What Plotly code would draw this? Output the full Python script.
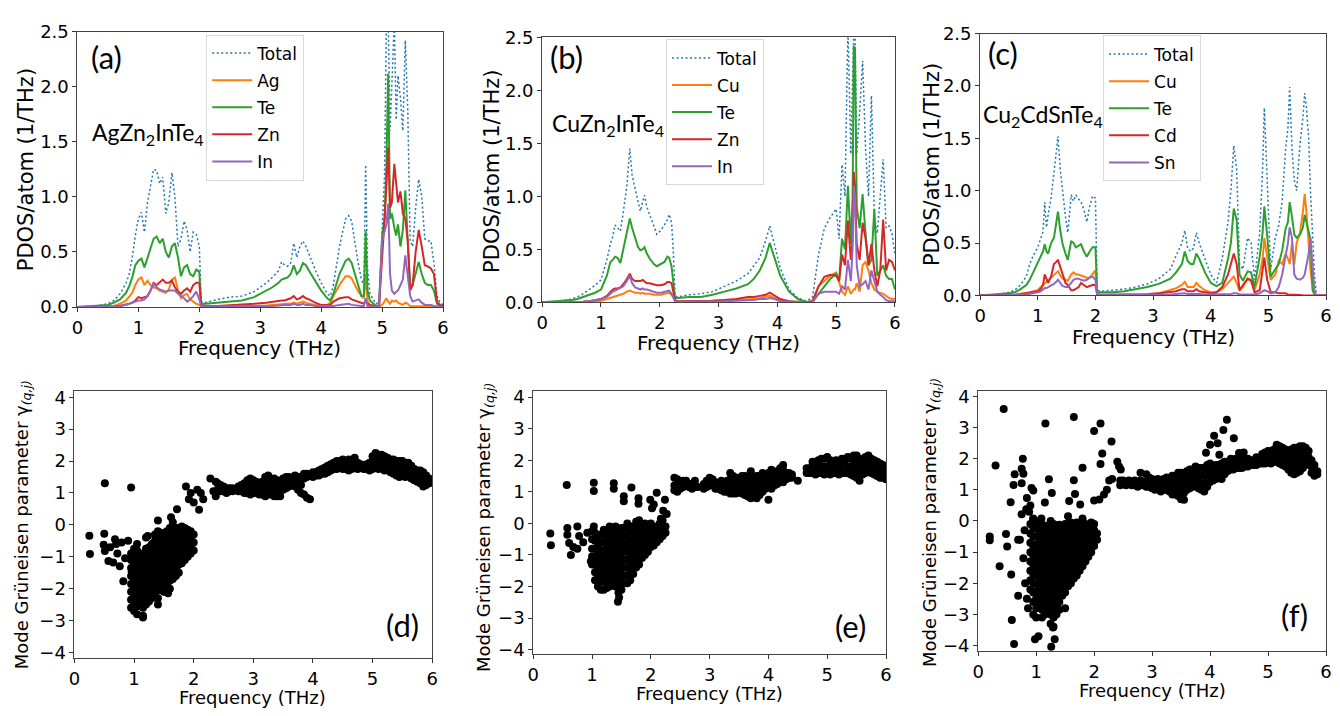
import plotly.graph_objects as go

# page body keeps its default 8px margin: figure is sized so the page is 1340x716
OFF = 8
W, H = 1340 - 2 * OFF, 716 - 2 * OFF

# ---------------- PDOS data (a) AgZn2InTe4 ----------------
FREQ_A = [0.0, 0.3, 0.5, 0.6, 0.7, 0.8, 0.85, 0.9, 0.95, 1.0,
          1.05, 1.1, 1.15, 1.2, 1.25, 1.3, 1.35, 1.4, 1.45, 1.5,
          1.55, 1.6, 1.65, 1.7, 1.75, 1.8, 1.85, 1.9, 1.95, 2.0,
          2.03, 2.1, 2.3, 2.5, 2.7, 2.9, 3.1, 3.2, 3.3, 3.35,
          3.4, 3.45, 3.5, 3.55, 3.6, 3.65, 3.7, 3.75, 3.8, 3.9,
          4.0, 4.1, 4.15, 4.2, 4.3, 4.4, 4.45, 4.5, 4.6, 4.66,
          4.7, 4.73, 4.76, 4.8, 4.9, 4.95, 5.0, 5.04, 5.07, 5.1,
          5.13, 5.16, 5.2, 5.23, 5.26, 5.3, 5.34, 5.38, 5.42, 5.46,
          5.5, 5.55, 5.6, 5.65, 5.7, 5.75, 5.8, 5.85, 5.9, 5.95, 6.0]
A_TOTAL = [0, 0.01, 0.03, 0.06, 0.12, 0.22, 0.3, 0.45, 0.65, 0.8,
           0.86, 0.68, 0.95, 1.1, 1.25, 1.24, 1.12, 1.18, 0.85, 0.95,
           1.22, 1.0, 0.55, 0.62, 0.78, 0.7, 0.5, 0.68, 0.66, 0.55,
           0.05, 0.04, 0.07, 0.09, 0.1, 0.14, 0.22, 0.27, 0.33, 0.41,
           0.38, 0.37, 0.4, 0.58, 0.45, 0.55, 0.6, 0.55, 0.48, 0.34,
           0.22, 0.12, 0.1, 0.2, 0.55, 0.8, 0.83, 0.78, 0.42, 0.25,
           0.2, 1.29, 0.35, 0.12, 0.03, 0.05, 0.7, 1.2, 2.6, 2.6,
           1.6, 2.0, 2.6, 1.7, 2.1, 1.9, 1.6, 2.42, 1.8, 0.6,
           0.55, 0.9, 1.16, 1.0, 0.62, 0.6, 0.6, 0.4, 0.1, 0.04, 0.02]
A_AG = [0, 0, 0.005, 0.01, 0.03, 0.06, 0.09, 0.13, 0.2, 0.25,
        0.27, 0.2, 0.24, 0.2, 0.18, 0.17, 0.15, 0.14, 0.13, 0.16,
        0.25, 0.27, 0.15, 0.08, 0.11, 0.12, 0.07, 0.05, 0.03, 0.02,
        0.01, 0.005, 0.005, 0.005, 0.01, 0.01, 0.015, 0.02, 0.025, 0.03,
        0.03, 0.03, 0.03, 0.04, 0.03, 0.04, 0.05, 0.04, 0.03, 0.02,
        0.01, 0.02, 0.04, 0.1, 0.2, 0.28, 0.28, 0.26, 0.15, 0.1,
        0.08, 0.3, 0.05, 0.02, 0.005, 0.005, 0.02, 0.05, 0.08, 0.05,
        0.03, 0.06, 0.05, 0.06, 0.04, 0.03, 0.02, 0.04, 0.03, 0.01,
        0.01, 0.01, 0.01, 0.01, 0.005, 0.005, 0.005, 0.005, 0, 0, 0]
A_TE = [0, 0.01, 0.02, 0.04, 0.07, 0.13, 0.19, 0.27, 0.38, 0.42,
        0.44, 0.36, 0.45, 0.55, 0.62, 0.64, 0.58, 0.62, 0.5, 0.45,
        0.55, 0.58, 0.45, 0.28, 0.36, 0.38, 0.3, 0.28, 0.34, 0.32,
        0.03, 0.03, 0.04, 0.05, 0.06, 0.09, 0.15, 0.18, 0.22, 0.25,
        0.26, 0.27, 0.3, 0.38, 0.3, 0.33, 0.4, 0.38, 0.33, 0.24,
        0.15, 0.08, 0.06, 0.12, 0.3, 0.42, 0.44, 0.4, 0.2, 0.1,
        0.1, 0.69, 0.15, 0.06, 0.01, 0.02, 0.65, 0.8, 1.3, 2.12,
        0.8, 0.85, 0.72, 0.65, 0.75, 0.55, 0.7, 1.06, 0.6, 0.2,
        0.2, 0.3, 0.41, 0.3, 0.22, 0.2, 0.2, 0.15, 0.03, 0.01, 0.01]
A_ZN = [0, 0, 0, 0.005, 0.01, 0.02, 0.03, 0.04, 0.06, 0.09,
        0.08, 0.09, 0.1, 0.15, 0.22, 0.2, 0.23, 0.25, 0.22, 0.22,
        0.24, 0.18, 0.14, 0.12, 0.15, 0.17, 0.14, 0.2, 0.22, 0.22,
        0.02, 0.01, 0.01, 0.015, 0.02, 0.03, 0.04, 0.05, 0.06, 0.06,
        0.06, 0.07, 0.08, 0.1, 0.07, 0.08, 0.1, 0.08, 0.07, 0.04,
        0.02, 0.02, 0.02, 0.05, 0.08, 0.09, 0.09, 0.07, 0.05, 0.04,
        0.03, 0.06, 0.03, 0.02, 0.005, 0.01, 0.4, 0.8, 1.1, 1.45,
        0.9, 0.95, 1.3, 1.1, 0.95, 1.05, 0.85, 0.8, 0.6, 0.15,
        0.2, 0.5, 0.7, 0.55, 0.38, 0.37, 0.35, 0.3, 0.05, 0.02, 0.01]
A_IN = [0, 0, 0, 0.005, 0.01, 0.02, 0.03, 0.04, 0.05, 0.06,
        0.06, 0.07, 0.1, 0.15, 0.22, 0.18, 0.16, 0.15, 0.14, 0.15,
        0.15, 0.15, 0.12, 0.1, 0.08, 0.05, 0.07, 0.1, 0.14, 0.07,
        0.01, 0.005, 0.005, 0.005, 0.005, 0.01, 0.01, 0.01, 0.015, 0.02,
        0.02, 0.02, 0.02, 0.03, 0.02, 0.02, 0.03, 0.02, 0.02, 0.01,
        0.01, 0.005, 0.005, 0.01, 0.02, 0.03, 0.03, 0.02, 0.01, 0.01,
        0.01, 0.08, 0.01, 0.005, 0.005, 0.01, 0.6, 0.7, 0.75, 0.94,
        0.3, 0.15, 0.12, 0.14, 0.15, 0.2, 0.25, 0.47, 0.3, 0.1,
        0.05, 0.06, 0.07, 0.04, 0.02, 0.02, 0.02, 0.01, 0.005, 0, 0]

# ---------------- PDOS data (b) CuZn2InTe4 ----------------
FREQ_B = [0.0, 0.3, 0.5, 0.6, 0.7, 0.8, 0.9, 1.0, 1.1, 1.16,
          1.2, 1.24, 1.28, 1.33, 1.38, 1.44, 1.49, 1.53, 1.58, 1.63,
          1.67, 1.71, 1.74, 1.78, 1.83, 1.9, 1.95, 2.02, 2.08, 2.13,
          2.16, 2.2, 2.23, 2.26, 2.3, 2.5, 2.7, 2.9, 3.1, 3.3,
          3.5, 3.6, 3.7, 3.8, 3.87, 3.95, 4.05, 4.2, 4.35, 4.5,
          4.6, 4.7, 4.8, 4.9, 5.0, 5.05, 5.1, 5.15, 5.2, 5.25,
          5.28, 5.3, 5.32, 5.35, 5.4, 5.45, 5.5, 5.55, 5.6, 5.65,
          5.7, 5.75, 5.8, 5.85, 5.9, 5.95, 6.0]
B_TOTAL = [0, 0.01, 0.03, 0.05, 0.08, 0.12, 0.16, 0.21, 0.4, 0.55,
           0.62, 0.73, 0.7, 0.67, 0.85, 1.1, 1.45, 1.2, 1.07, 0.95,
           0.86, 0.95, 1.01, 0.9, 0.83, 0.72, 0.64, 0.68, 0.73, 0.78,
           0.83, 0.75, 0.49, 0.06, 0.05, 0.07, 0.08, 0.1, 0.15, 0.2,
           0.27, 0.35, 0.42, 0.58, 0.72, 0.55, 0.32, 0.12, 0.04, 0.01,
           0.05, 0.45, 0.7, 0.8, 0.88, 0.6, 1.3, 1.0, 2.6, 1.4,
           2.0, 2.6, 2.6, 1.4, 1.8, 2.28, 1.45, 1.0, 1.95, 0.8,
           0.65, 1.0, 1.35, 0.7, 0.72, 0.65, 0.45]
B_CU = [0, 0, 0, 0.005, 0.005, 0.01, 0.01, 0.015, 0.03, 0.04,
        0.05, 0.055, 0.06, 0.07, 0.08, 0.1, 0.11, 0.1, 0.09, 0.09,
        0.08, 0.09, 0.08, 0.08, 0.08, 0.07, 0.07, 0.07, 0.08, 0.09,
        0.09, 0.07, 0.05, 0.01, 0.005, 0.005, 0.01, 0.01, 0.015, 0.02,
        0.03, 0.03, 0.04, 0.05, 0.06, 0.04, 0.02, 0.01, 0.005, 0,
        0.01, 0.15, 0.2, 0.25, 0.28, 0.2, 0.1, 0.07, 0.15, 0.08,
        0.1, 0.12, 0.12, 0.18, 0.1, 0.35, 0.38, 0.3, 0.18, 0.12,
        0.1, 0.09, 0.08, 0.06, 0.04, 0.03, 0.03]
B_TE = [0, 0.01, 0.02, 0.03, 0.05, 0.07, 0.09, 0.12, 0.25, 0.38,
        0.4, 0.43, 0.42, 0.37, 0.5, 0.65, 0.79, 0.7, 0.6, 0.52,
        0.49, 0.5, 0.52, 0.46, 0.41, 0.36, 0.34, 0.36, 0.38, 0.43,
        0.42, 0.34, 0.2, 0.04, 0.04, 0.05, 0.05, 0.07, 0.1, 0.13,
        0.17, 0.22, 0.3, 0.42, 0.56, 0.42, 0.25, 0.1, 0.03, 0.0,
        0.01, 0.08, 0.15, 0.22, 0.27, 0.2, 0.6, 0.5, 1.1, 0.55,
        1.0, 2.42, 2.4, 0.9, 0.7, 1.02, 0.65, 0.35, 0.4, 0.88,
        0.25, 0.3, 0.35, 0.25, 0.22, 0.22, 0.12]
B_ZN = [0, 0, 0, 0, 0.005, 0.01, 0.02, 0.03, 0.06, 0.1,
        0.12, 0.13, 0.13, 0.14, 0.17, 0.22, 0.27, 0.22, 0.2, 0.2,
        0.2, 0.21, 0.2, 0.18, 0.18, 0.17, 0.16, 0.16, 0.17, 0.19,
        0.19, 0.18, 0.1, 0.02, 0.01, 0.01, 0.01, 0.015, 0.02, 0.03,
        0.05, 0.05, 0.06, 0.07, 0.09, 0.06, 0.03, 0.01, 0, 0,
        0.01, 0.15, 0.24, 0.26, 0.25, 0.2, 0.45, 0.35, 0.77, 0.4,
        0.6, 1.23, 1.1, 0.55, 0.4, 0.75, 0.6, 0.35, 0.55, 0.3,
        0.15, 0.3, 0.78, 0.3, 0.4, 0.38, 0.3]
B_IN = [0, 0, 0, 0, 0.005, 0.01, 0.02, 0.03, 0.05, 0.08,
        0.1, 0.11, 0.12, 0.13, 0.15, 0.2, 0.25, 0.18, 0.14, 0.13,
        0.12, 0.13, 0.12, 0.12, 0.11, 0.1, 0.09, 0.09, 0.1, 0.11,
        0.11, 0.08, 0.05, 0.01, 0.005, 0.005, 0.005, 0.01, 0.01, 0.015,
        0.02, 0.02, 0.03, 0.03, 0.04, 0.03, 0.01, 0.005, 0, 0,
        0, 0.08, 0.1, 0.1, 0.1, 0.08, 0.15, 0.12, 0.4, 0.2,
        0.5, 1.1, 1.0, 0.35, 0.15, 0.17, 0.2, 0.12, 0.3, 0.2,
        0.1, 0.07, 0.05, 0.02, 0.01, 0.01, 0.01]

# ---------------- PDOS data (c) Cu2CdSnTe4 ----------------
FREQ_C = [0.0, 0.3, 0.5, 0.6, 0.7, 0.8, 0.86, 0.92, 1.0, 1.05,
          1.09, 1.12, 1.15, 1.18, 1.23, 1.28, 1.32, 1.35, 1.39, 1.43,
          1.48, 1.52, 1.58, 1.62, 1.66, 1.71, 1.75, 1.8, 1.85, 1.9,
          1.95, 2.0, 2.03, 2.1, 2.3, 2.5, 2.7, 2.9, 3.1, 3.3,
          3.4, 3.5, 3.55, 3.6, 3.65, 3.7, 3.75, 3.8, 3.9, 4.0,
          4.1, 4.2, 4.3, 4.35, 4.4, 4.45, 4.5, 4.56, 4.64, 4.7,
          4.76, 4.85, 4.9, 4.93, 4.98, 5.04, 5.12, 5.18, 5.24, 5.3,
          5.34, 5.37, 5.41, 5.45, 5.49, 5.55, 5.6, 5.63, 5.66, 5.7,
          5.73, 5.77, 5.8, 5.83, 5.87, 6.0]
C_TOTAL = [0, 0.01, 0.03, 0.05, 0.1, 0.18, 0.3, 0.38, 0.46, 0.55,
           0.61, 0.89, 0.65, 0.77, 0.93, 1.17, 1.35, 1.52, 1.2, 0.99,
           0.75, 0.6, 0.96, 0.9, 0.96, 0.92, 0.89, 0.82, 0.7, 0.85,
           0.95, 0.93, 0.05, 0.04, 0.05, 0.06, 0.08, 0.11, 0.16, 0.25,
           0.38, 0.5, 0.62, 0.45, 0.42, 0.45, 0.6, 0.5, 0.35, 0.2,
           0.12, 0.35, 0.7, 1.0, 1.43, 1.2, 0.3, 0.25, 0.55, 0.5,
           0.15, 0.6, 1.2, 1.79, 1.1, 0.25, 0.55, 0.67, 0.9, 1.4,
           1.6, 1.99, 1.4, 1.1, 1.0, 1.45, 1.7, 1.93, 1.8, 1.5,
           1.0, 0.5, 0.2, 0.03, 0, 0]
C_CU = [0, 0, 0.005, 0.01, 0.015, 0.02, 0.03, 0.04, 0.05, 0.08,
        0.1, 0.12, 0.13, 0.15, 0.17, 0.2, 0.22, 0.23, 0.19, 0.16,
        0.15, 0.14, 0.2, 0.22, 0.2, 0.2, 0.19, 0.18, 0.17, 0.17,
        0.2, 0.24, 0.01, 0.01, 0.01, 0.01, 0.01, 0.015, 0.02, 0.05,
        0.07, 0.1, 0.13, 0.08, 0.08, 0.08, 0.12, 0.09, 0.05, 0.03,
        0.03, 0.06, 0.12, 0.15, 0.18, 0.12, 0.05, 0.08, 0.16, 0.15,
        0.05, 0.2, 0.35, 0.55, 0.35, 0.15, 0.2, 0.33, 0.3, 0.4,
        0.35, 0.3, 0.5, 0.3, 0.5, 0.6, 0.8, 0.97, 0.8, 0.5,
        0.25, 0.05, 0.01, 0, 0, 0]
C_TE = [0, 0.01, 0.02, 0.03, 0.06, 0.1, 0.15, 0.22, 0.31, 0.36,
        0.42, 0.49, 0.42, 0.4, 0.5, 0.55, 0.7, 0.8, 0.62, 0.49,
        0.4, 0.34, 0.52, 0.5, 0.46, 0.48, 0.49, 0.42, 0.37, 0.42,
        0.46, 0.46, 0.03, 0.03, 0.03, 0.04, 0.06, 0.08, 0.11, 0.16,
        0.22, 0.3, 0.42, 0.33, 0.3, 0.3, 0.4, 0.35, 0.22, 0.12,
        0.09, 0.12, 0.35, 0.5, 0.83, 0.72, 0.2, 0.14, 0.23, 0.22,
        0.08, 0.37, 0.6, 0.85, 0.57, 0.18, 0.25, 0.3, 0.43, 0.64,
        0.7, 0.89, 0.75, 0.58, 0.55, 0.58, 0.65, 0.77, 0.7, 0.6,
        0.54, 0.05, 0.01, 0, 0, 0]
C_CD = [0, 0, 0, 0.005, 0.01, 0.02, 0.02, 0.03, 0.04, 0.06,
        0.1, 0.2, 0.15, 0.12, 0.18, 0.3, 0.32, 0.34, 0.27, 0.2,
        0.12, 0.1, 0.05, 0.05, 0.06, 0.08, 0.12, 0.1, 0.08, 0.09,
        0.1, 0.1, 0.01, 0.005, 0.005, 0.005, 0.01, 0.01, 0.02, 0.03,
        0.04, 0.06, 0.06, 0.04, 0.04, 0.04, 0.06, 0.04, 0.03, 0.02,
        0.03, 0.08, 0.2, 0.3, 0.4, 0.3, 0.05, 0.1, 0.16, 0.14,
        0.03, 0.05, 0.25, 0.36, 0.15, 0.03, 0.03, 0.02, 0.02, 0.02,
        0.01, 0.01, 0.01, 0.005, 0.005, 0.005, 0, 0, 0, 0,
        0, 0, 0, 0, 0, 0]
C_SN = [0, 0, 0, 0.005, 0.005, 0.01, 0.015, 0.02, 0.03, 0.04,
        0.06, 0.07, 0.07, 0.08, 0.09, 0.11, 0.13, 0.15, 0.12, 0.09,
        0.08, 0.08, 0.12, 0.15, 0.16, 0.16, 0.15, 0.14, 0.15, 0.17,
        0.18, 0.15, 0.01, 0.005, 0.005, 0.005, 0.005, 0.005, 0.01, 0.01,
        0.015, 0.02, 0.02, 0.015, 0.015, 0.015, 0.02, 0.015, 0.01, 0.01,
        0.01, 0.01, 0.01, 0.015, 0.02, 0.02, 0.01, 0.01, 0.01, 0.01,
        0.01, 0.02, 0.04, 0.05, 0.04, 0.02, 0.03, 0.08, 0.2, 0.4,
        0.5, 0.65, 0.55, 0.2, 0.16, 0.15, 0.17, 0.2, 0.28, 0.4,
        0.55, 0.2, 0.05, 0, 0, 0]

# ---------------- Grüneisen data (d) ----------------
D_OUT_X = [0.25, 0.26, 0.51, 0.95, 0.5, 0.49, 0.51, 0.57, 0.65, 0.68, 0.79, 0.85, 0.82, 0.9, 0.96,
           0.72, 0.76, 0.6, 0.7, 1.23, 1.4, 1.62, 1.65, 1.72, 1.57, 1.4, 1.87, 1.95, 1.92, 2.0,
           2.09, 2.06, 2.12, 2.16, 2.28, 2.37, 2.33, 2.37]
D_OUT_Y = [-0.34, -0.91, 1.3, 1.17, -0.28, -0.62, -0.82, -1.13, -1.18, -0.45, -0.55, -1.05, -1.77, -0.5, -1.47,
           -0.9, -1.3, -0.7, -0.6, -0.35, 0.14, 0.24, 0.08, 0.49, -2.14, -2.5, 1.2, 1.0, 0.8, 0.7,
           0.47, 1.1, 1.0, 0.8, 1.45, 1.35, 1.05, 0.9]
D_BLOB_X = [0.95, 1.0, 1.05, 1.1, 1.15, 1.2, 1.25, 1.3, 1.35, 1.4, 1.45,
            1.5, 1.55, 1.6, 1.65, 1.7, 1.75, 1.8, 1.85, 1.9, 1.95, 2.0]
D_BLOB_Y = [[-2.6, -2.35, -2.1, -1.85, -1.6, -1.35, -1.1, -0.9],
            [-2.7, -2.45, -2.2, -1.95, -1.7, -1.45, -1.2, -0.95, -0.75],
            [-2.8, -2.55, -2.3, -2.05, -1.8, -1.55, -1.3, -1.05, -0.8, -0.6],
            [-2.5, -2.2, -1.95, -1.7, -1.45, -1.2, -0.95],
            [-2.9, -2.85, -2.6, -2.35, -2.1, -1.85, -1.6, -1.35, -1.1, -0.9],
            [-2.5, -2.25, -2.0, -1.75, -1.5, -1.25, -1.0, -0.75, -0.4],
            [-2.4, -2.15, -1.9, -1.65, -1.4, -1.15, -0.9, -0.7],
            [-2.3, -2.05, -1.8, -1.55, -1.3, -1.05, -0.8, -0.6],
            [-2.2, -1.95, -1.7, -1.45, -1.2, -0.95, -0.7, -0.5, -0.3],
            [-2.3, -2.05, -1.8, -1.55, -1.3, -1.05, -0.8, -0.55, -0.3, -0.2],
            [-2.0, -1.75, -1.5, -1.25, -1.0, -0.75, -0.5, -0.25],
            [-2.1, -1.85, -1.6, -1.35, -1.1, -0.85, -0.6, -0.4],
            [-1.9, -1.65, -1.4, -1.15, -0.9, -0.65, -0.4, -0.2],
            [-2.0, -1.75, -1.5, -1.25, -1.0, -0.75, -0.5, -0.25, -0.1],
            [-1.7, -1.45, -1.2, -0.95, -0.7, -0.45, -0.2],
            [-1.6, -1.35, -1.1, -0.85, -0.6, -0.35, -0.1],
            [-1.5, -1.25, -1.0, -0.75, -0.5, -0.25, -0.1],
            [-1.2, -0.95, -0.7, -0.45, -0.2, -0.05],
            [-1.1, -0.85, -0.6, -0.35, -0.1],
            [-1.0, -0.75, -0.5, -0.25, -0.15],
            [-0.9, -0.65, -0.4, -0.2],
            [-0.8, -0.55, -0.3]]
D_BAND_X = [2.4, 2.45, 2.5, 2.55, 2.6, 2.65, 2.7, 2.75, 2.8, 2.85, 2.9, 2.95,
            3.0, 3.05, 3.1, 3.15, 3.2, 3.25, 3.3, 3.35, 3.4, 3.45, 3.5, 3.55,
            3.6, 3.65, 3.7, 3.75, 3.8, 3.85, 3.9, 3.95, 4.0, 4.05, 4.1, 4.15,
            4.2, 4.25, 4.3, 4.35, 4.4, 4.45, 4.5, 4.55, 4.6, 4.65, 4.7, 4.75,
            4.8, 4.85, 4.9, 4.95, 5.0, 5.05, 5.1, 5.15, 5.2, 5.25, 5.3, 5.35,
            5.4, 5.45, 5.5, 5.55, 5.6, 5.65, 5.7, 5.75, 5.8, 5.85, 5.9, 5.95, 6.0]
D_BAND_Y = [[1.1, 1.3], [1.05, 1.25], [1.05, 1.2], [1.0, 1.15], [1.05, 1.15], [1.05, 1.15],
            [1.1], [1.05, 1.2], [1.05, 1.25], [1.0, 1.3], [1.0, 1.2, 1.4], [0.95, 1.2, 1.45],
            [1.0, 1.25, 1.4], [1.0, 1.2, 1.35], [0.95, 1.15, 1.3], [0.95, 1.2, 1.35],
            [0.9, 1.1, 1.3, 1.5], [0.95, 1.15, 1.35, 1.55], [0.95, 1.15, 1.35],
            [0.9, 1.1, 1.3, 1.45], [0.9, 1.1, 1.3, 1.4], [0.9, 1.15, 1.35], [1.1, 1.3, 1.45],
            [1.15, 1.35, 1.5], [1.2, 1.4, 1.5], [1.25, 1.45], [1.2, 1.4, 1.55], [1.1, 1.3, 1.5],
            [1.0, 1.25, 1.5], [0.95, 1.45, 1.6], [0.85, 1.5, 1.6], [0.8, 1.55], [1.5, 1.65],
            [1.55, 1.65], [1.55, 1.7], [1.6, 1.75], [1.6, 1.8], [1.65, 1.85], [1.7, 1.9],
            [1.75, 1.95], [1.75, 2.0], [1.8, 2.0], [1.75, 1.95, 2.05], [1.75, 2.0],
            [1.7, 1.9, 2.05], [1.75, 1.95], [1.8, 2.1], [1.75, 1.95], [1.8, 1.9], [1.75, 1.85],
            [1.75, 1.9], [1.7, 1.85, 1.95], [1.75, 2.0, 2.15], [1.8, 2.05, 2.25], [1.75, 2.0, 2.2],
            [1.8, 2.0, 2.2], [1.7, 1.95, 2.15], [1.75, 1.95, 2.1], [1.65, 1.85, 2.05],
            [1.6, 1.85, 2.05], [1.55, 1.8, 2.0], [1.5, 1.75, 2.0], [1.55, 1.8, 2.0],
            [1.5, 1.75, 1.95], [1.55, 1.75, 1.95], [1.45, 1.65, 1.85], [1.4, 1.6, 1.75],
            [1.35, 1.55, 1.7], [1.3, 1.5, 1.7], [1.2, 1.45, 1.65], [1.25, 1.4, 1.55],
            [1.3, 1.45], [1.35]]

# ---------------- Grüneisen data (e) ----------------
E_OUT_X = [0.29, 0.30, 0.57, 1.03, 1.03, 1.37, 1.37, 1.54, 1.54, 1.67, 1.79, 1.79, 1.99, 2.02, 2.1,
           2.21, 2.24, 2.27, 2.17, 2.05, 0.58, 0.58, 0.61, 0.64, 0.75, 0.78, 0.75, 0.92, 0.98, 1.03,
           0.85, 0.68, 1.44, 1.46]
E_OUT_Y = [-0.32, -0.69, 1.22, 1.29, 1.03, 1.27, 1.1, 0.86, 0.7, 1.14, 0.8, 0.62, 0.75, 0.48, 0.97,
           0.4, 0.75, 0.3, 0.15, 0.6, -0.15, -0.36, -0.62, -1.0, -0.1, -0.4, -0.8, -0.3, -1.2, -0.1,
           -0.6, -0.75, -2.48, -2.35]
E_BLOB_X = [1.0, 1.05, 1.1, 1.15, 1.2, 1.25, 1.3, 1.35, 1.4, 1.45, 1.5, 1.55, 1.6,
            1.65, 1.7, 1.75, 1.8, 1.85, 1.9, 1.95, 2.0, 2.05, 2.1, 2.15, 2.2, 2.25]
E_BLOB_Y = [[-1.3, -1.05, -0.8, -0.5, -0.25],
            [-1.8, -1.55, -1.3, -1.05, -0.8, -0.55, -0.3],
            [-2.0, -1.75, -1.5, -1.25, -1.0, -0.75, -0.5],
            [-2.1, -1.85, -1.6, -1.35, -1.1, -0.85, -0.6, -0.35],
            [-2.1, -1.85, -1.6, -1.35, -1.1, -0.85, -0.6, -0.35, -0.2],
            [-2.05, -1.8, -1.55, -1.3, -1.05, -0.8, -0.55, -0.3],
            [-2.0, -1.75, -1.5, -1.25, -1.0, -0.75, -0.5, -0.25, -0.1],
            [-1.95, -1.7, -1.45, -1.2, -0.95, -0.7, -0.45, -0.2],
            [-2.0, -1.75, -1.5, -1.25, -1.0, -0.75, -0.5, -0.25, -0.1],
            [-2.2, -1.95, -1.7, -1.45, -1.2, -0.95, -0.7, -0.45, -0.2],
            [-2.1, -1.85, -1.6, -1.35, -1.1, -0.85, -0.6, -0.35, -0.15],
            [-1.9, -1.65, -1.4, -1.15, -0.9, -0.65, -0.4, -0.15],
            [-1.9, -1.65, -1.4, -1.15, -0.9, -0.65, -0.4, -0.15, 0.0],
            [-1.8, -1.55, -1.3, -1.05, -0.8, -0.55, -0.3, -0.1],
            [-1.6, -1.35, -1.1, -0.85, -0.6, -0.35, -0.1],
            [-1.4, -1.15, -0.9, -0.65, -0.4, -0.15, 0.05],
            [-1.3, -1.05, -0.8, -0.55, -0.3, -0.05, 0.1],
            [-1.1, -0.85, -0.6, -0.35, -0.1],
            [-1.0, -0.75, -0.5, -0.25, 0.0],
            [-0.9, -0.65, -0.4, -0.15],
            [-0.75, -0.5, -0.25, 0.0],
            [-0.7, -0.45, -0.2],
            [-0.6, -0.35, -0.1],
            [-0.5, -0.25, 0.0],
            [-0.4, -0.15, 0.1],
            [-0.3, -0.1]]
E_BAND_X = [2.4, 2.45, 2.5, 2.55, 2.6, 2.65, 2.7, 2.75, 2.8, 2.9, 2.95, 3.0,
            3.05, 3.1, 3.15, 3.2, 3.25, 3.3, 3.35, 3.4, 3.45, 3.5, 3.55, 3.6,
            3.65, 3.7, 3.75, 3.8, 3.85, 3.9, 3.95, 4.0, 4.05, 4.1, 4.15, 4.2,
            4.25, 4.3, 4.35, 4.4, 4.5, 4.65, 4.7, 4.75, 4.8, 4.85, 4.9, 4.95,
            5.0, 5.05, 5.1, 5.15, 5.2, 5.25, 5.3, 5.35, 5.4, 5.45, 5.5, 5.55,
            5.6, 5.65, 5.7, 5.75, 5.8, 5.85, 5.9, 5.95, 6.0]
E_BAND_Y = [[1.05, 1.2, 1.45], [1.0, 1.2, 1.4], [1.1, 1.3], [1.15, 1.35], [1.2, 1.35],
            [1.15, 1.25], [1.1, 1.25], [1.15, 1.35], [1.15], [1.1, 1.25], [1.15, 1.35],
            [1.2, 1.45], [1.2, 1.4], [1.1, 1.3], [1.1, 1.25], [1.05, 1.2, 1.35],
            [1.0, 1.2, 1.3], [1.0, 1.15, 1.35], [0.95, 1.15, 1.4, 1.6], [0.95, 1.1, 1.3, 1.5],
            [0.95, 1.15, 1.35, 1.45], [1.0, 1.2, 1.4], [0.95, 1.1, 1.3, 1.5], [0.9, 1.1, 1.3, 1.5],
            [0.85, 1.05, 1.25, 1.45], [0.8, 1.0, 1.2, 1.45, 1.65], [0.85, 1.05, 1.25, 1.45],
            [0.8, 1.0, 1.25, 1.5], [0.9, 1.1, 1.3, 1.5], [1.0, 1.2, 1.4, 1.6], [1.1, 1.3, 1.5],
            [0.75, 1.2, 1.4, 1.6], [1.1, 1.3, 1.5, 1.7], [1.2, 1.4, 1.6], [1.25, 1.45, 1.65],
            [1.35, 1.5, 1.75], [1.3, 1.5, 1.7, 1.85], [1.4, 1.6], [1.45, 1.6], [1.45, 1.55],
            [1.35], [1.6, 1.75], [1.6, 1.75], [1.6, 1.8, 1.95], [1.55, 1.75, 1.95],
            [1.6, 1.8, 2.0], [1.6, 1.8, 2.05], [1.55, 1.8, 2.05], [1.6, 1.8, 2.1],
            [1.55, 1.75, 2.0], [1.6, 1.8, 1.95], [1.6, 1.8, 2.0], [1.55, 1.75, 1.95],
            [1.6, 1.85, 2.05], [1.6, 1.85, 2.05], [1.6, 1.8, 2.1], [1.55, 1.8, 2.05],
            [1.5, 1.75, 2.0, 2.15], [1.45, 1.7, 1.95, 2.15], [1.35, 1.6, 1.85, 2.05],
            [1.55, 1.75, 2.0], [1.6, 1.85, 2.1], [1.65, 1.9, 2.15], [1.6, 1.85, 2.05],
            [1.55, 1.8, 2.0], [1.5, 1.75, 1.95], [1.45, 1.7, 1.9], [1.45, 1.65, 1.85],
            [1.4, 1.6, 1.8]]

# ---------------- Grüneisen data (f) ----------------
F_OUT_X = [0.44, 0.3, 0.2, 0.2, 0.37, 0.48, 0.5, 0.56, 0.61, 0.63, 0.57, 0.58, 0.62, 0.69, 0.69,
           0.77, 0.75, 0.78, 0.75, 0.75, 0.83, 0.84, 0.92, 0.95, 0.9, 0.78, 0.81, 0.84, 0.86, 0.95,
           0.98, 1.04, 1.16, 1.22, 1.27, 1.15, 1.26, 1.29, 1.32, 1.27, 1.4, 1.65, 1.65, 1.67, 1.57,
           1.55, 1.8, 1.76, 2.0, 2.11, 2.11, 2.14, 2.0, 2.09, 2.17, 2.22, 2.3, 2.4, 2.46, 2.43,
           2.26, 2.31, 0.95, 1.09, 1.8, 0.88, 0.8, 0.72,
           3.93, 4.0, 4.07, 4.13, 4.23, 4.29, 4.41, 4.16, 4.36, 4.5, 4.58]
F_OUT_Y = [3.6, 1.78, -0.5, -0.62, -1.45, -0.42, -0.82, 0.6, 1.16, 1.5, -1.72, -3.18, -3.95, -0.6, -2.4,
           2.0, 1.68, 1.52, 1.21, 0.22, 0.38, 0.74, 1.06, 0.98, 0.5, -1.2, -2.0, -2.5, -2.8, -3.0,
           -3.8, -3.7, 3.13, 1.34, 0.9, 0.59, -4.04, -3.42, -3.8, -2.45, -2.85, 3.34, 1.31, 0.87, 0.64,
           0.15, 1.71, 0.53, 2.89, 3.13, 1.83, 2.17, 0.66, 0.69, 0.85, 1.0, 2.55, 1.9, 1.65, 1.75,
           1.3, 1.35, 0.08, 0.08, 0.08, 0.3, -0.3, -0.6,
           2.19, 2.45, 2.74, 2.5, 2.92, 3.25, 2.66, 2.13, 2.0, 2.18, 2.2]
F_BLOB_X = [0.9, 0.95, 1.0, 1.05, 1.1, 1.15, 1.2, 1.25, 1.3, 1.35, 1.4, 1.45,
            1.5, 1.55, 1.6, 1.65, 1.7, 1.75, 1.8, 1.85, 1.9, 1.95, 2.0, 2.05]
F_BLOB_Y = [[-2.2, -1.9, -1.6, -1.3, -1.0, -0.7, -0.4, -0.1],
            [-2.6, -2.3, -2.0, -1.7, -1.4, -1.1, -0.8, -0.5, -0.2, 0.05],
            [-3.1, -2.8, -2.5, -2.25, -2.0, -1.75, -1.5, -1.25, -1.0, -0.75, -0.5, -0.25, 0.0],
            [-2.7, -2.45, -2.2, -1.95, -1.7, -1.45, -1.2, -0.95, -0.7, -0.45, -0.2],
            [-3.1, -2.85, -2.6, -2.35, -2.1, -1.85, -1.6, -1.35, -1.1, -0.85, -0.6, -0.35, -0.1],
            [-3.0, -2.75, -2.5, -2.25, -2.0, -1.75, -1.5, -1.25, -1.0, -0.75, -0.5, -0.25],
            [-2.9, -2.65, -2.4, -2.15, -1.9, -1.65, -1.4, -1.15, -0.9, -0.65, -0.4, -0.15],
            [-3.3, -3.0, -2.7, -2.45, -2.2, -1.95, -1.7, -1.45, -1.2, -0.95, -0.7, -0.45, -0.2, 0.0],
            [-3.4, -3.1, -2.8, -2.55, -2.3, -2.05, -1.8, -1.55, -1.3, -1.05, -0.8, -0.55, -0.3, -0.1],
            [-3.0, -2.7, -2.45, -2.2, -1.95, -1.7, -1.45, -1.2, -0.95, -0.7, -0.45, -0.2],
            [-2.6, -2.35, -2.1, -1.85, -1.6, -1.35, -1.1, -0.85, -0.6, -0.35, -0.12],
            [-2.4, -2.15, -1.9, -1.65, -1.4, -1.15, -0.9, -0.65, -0.4, -0.15],
            [-2.8, -2.3, -2.05, -1.8, -1.55, -1.3, -1.05, -0.8, -0.55, -0.3, -0.1],
            [-2.1, -1.85, -1.6, -1.35, -1.1, -0.85, -0.6, -0.35, -0.1],
            [-2.0, -1.75, -1.5, -1.25, -1.0, -0.75, -0.5, -0.25, -0.05],
            [-1.85, -1.6, -1.35, -1.1, -0.85, -0.6, -0.35, -0.1],
            [-1.75, -1.5, -1.25, -1.0, -0.75, -0.5, -0.25, -0.05],
            [-1.6, -1.35, -1.1, -0.85, -0.6, -0.35, -0.1],
            [-1.45, -1.2, -0.95, -0.7, -0.45, -0.2, 0.0],
            [-1.3, -1.05, -0.8, -0.55, -0.3, -0.1],
            [-1.15, -0.9, -0.65, -0.4, -0.15],
            [-1.0, -0.75, -0.5, -0.25, -0.05],
            [-0.8, -0.55, -0.3, -0.1],
            [-0.6, -0.4]]
F_BAND_X = [2.45, 2.5, 2.55, 2.6, 2.65, 2.7, 2.75, 2.8, 2.85, 2.9, 2.95, 3.0,
            3.05, 3.1, 3.15, 3.2, 3.25, 3.3, 3.35, 3.4, 3.45, 3.5, 3.55, 3.6,
            3.65, 3.7, 3.75, 3.8, 3.85, 3.9, 3.95, 4.0, 4.05, 4.1, 4.15, 4.2,
            4.25, 4.3, 4.35, 4.4, 4.45, 4.5, 4.55, 4.6, 4.65, 4.7, 4.75, 4.8,
            4.85, 4.9, 4.95, 5.0, 5.05, 5.1, 5.15, 5.2, 5.25, 5.3, 5.35, 5.4,
            5.45, 5.5, 5.55, 5.6, 5.65, 5.7, 5.75, 5.8, 5.85]
F_BAND_Y = [[1.15, 1.3], [1.2, 1.3], [1.15, 1.25], [1.2, 1.3], [1.15, 1.25], [1.2, 1.3],
            [1.1, 1.25], [1.15, 1.3, 1.55], [1.15, 1.25], [1.1, 1.25, 1.5], [1.1, 1.2, 1.4],
            [1.05, 1.2, 1.35], [1.0, 1.15, 1.3], [1.05, 1.2, 1.35], [0.95, 1.15, 1.3],
            [1.0, 1.2, 1.35], [1.0, 1.2, 1.4], [0.95, 1.15, 1.35], [0.85, 1.05, 1.25, 1.45],
            [0.85, 1.05, 1.25, 1.45], [0.8, 1.0, 1.2, 1.4, 1.55], [0.7, 0.95, 1.15, 1.35, 1.55],
            [0.68, 0.9, 1.1, 1.3, 1.5], [1.0, 1.2, 1.4, 1.6], [1.05, 1.25, 1.45, 1.65],
            [1.1, 1.3, 1.5, 1.65], [1.15, 1.35, 1.55, 1.75], [1.05, 1.3, 1.5, 1.7],
            [1.0, 1.2, 1.45, 1.7], [0.95, 1.2, 1.45, 1.7], [1.1, 1.35, 1.6, 1.8],
            [1.25, 1.5, 1.7, 1.85], [1.3, 1.55, 1.75], [1.35, 1.55, 1.8], [1.4, 1.6, 1.8],
            [1.35, 1.6, 1.85], [1.5, 1.7, 1.9], [1.6, 1.75, 1.9], [1.65, 1.8, 1.95],
            [1.65, 1.8, 1.95], [1.7, 1.85, 2.0], [1.7, 1.85], [1.7, 1.85, 2.0], [1.75, 1.9],
            [1.75, 1.9, 2.0], [1.8, 1.95], [1.8, 1.95], [1.8, 1.95, 2.05], [1.85, 2.0],
            [1.85, 2.0, 2.15], [1.85, 2.05, 2.2], [1.9, 2.05, 2.25], [1.85, 2.05, 2.25],
            [1.9, 2.1, 2.3], [1.9, 2.1, 2.3, 2.45], [1.85, 2.05, 2.25, 2.4], [1.8, 2.0, 2.2, 2.35],
            [1.75, 1.95, 2.15, 2.3], [1.65, 1.85, 2.05, 2.2], [1.55, 1.75, 1.95, 2.15, 2.3],
            [1.5, 1.7, 1.9, 2.1, 2.35], [1.55, 1.75, 1.95, 2.15, 2.35], [1.6, 1.8, 2.0, 2.2, 2.4],
            [1.7, 1.9, 2.1, 2.3, 2.4], [1.8, 2.0, 2.2, 2.35], [1.85, 2.05, 2.25],
            [1.55, 1.75, 1.95], [1.45, 1.65, 1.8], [1.5, 1.6]]

SERIES_COLORS = ["#1f77b4", "#ff7f0e", "#2ca02c", "#d62728", "#9467bd"]
NAMES_A = ["Total", "Ag", "Te", "Zn", "In"]
NAMES_B = ["Total", "Cu", "Te", "Zn", "In"]
NAMES_C = ["Total", "Cu", "Te", "Cd", "Sn"]
FREQ_TICKS = [0, 1, 2, 3, 4, 5, 6]
PDOS_TICKS = [0.0, 0.5, 1.0, 1.5, 2.0, 2.5]
GAMMA_TICKS = [-4, -3, -2, -1, 0, 1, 2, 3, 4]


def px(x):
    return (x - OFF) / W


def py(y):
    return 1 - (y - OFF) / H


def clamp(v):
    return min(1.0, max(0.0, v))


def expand(cols_x, cols_y):
    xs, ys = [], []
    for x, col in zip(cols_x, cols_y):
        for y in col:
            xs.append(x)
            ys.append(y)
    return xs, ys


fig = go.Figure()

top_panels = [
    (FREQ_A, [A_TOTAL, A_AG, A_TE, A_ZN, A_IN], NAMES_A, "legend"),
    (FREQ_B, [B_TOTAL, B_CU, B_TE, B_ZN, B_IN], NAMES_B, "legend2"),
    (FREQ_C, [C_TOTAL, C_CU, C_TE, C_CD, C_SN], NAMES_C, "legend3"),
]
for i, (freq, series, names, leg) in enumerate(top_panels):
    ax = str(i + 1) if i > 0 else ""
    for j, (vals, name) in enumerate(zip(series, names)):
        assert len(vals) == len(freq), (name, i, len(vals), len(freq))
        line = dict(color=SERIES_COLORS[j], width=2)
        if j == 0:
            line = dict(color=SERIES_COLORS[j], width=1.5, dash="2px,2.5px")
        fig.add_trace(go.Scatter(
            x=freq, y=vals, mode="lines", name=name, line=line,
            xaxis="x" + ax, yaxis="y" + ax, legend=leg,
            legendgroup=f"{leg}_{j}", showlegend=True))

bottom_panels = [
    (D_OUT_X, D_OUT_Y, D_BLOB_X, D_BLOB_Y, D_BAND_X, D_BAND_Y),
    (E_OUT_X, E_OUT_Y, E_BLOB_X, E_BLOB_Y, E_BAND_X, E_BAND_Y),
    (F_OUT_X, F_OUT_Y, F_BLOB_X, F_BLOB_Y, F_BAND_X, F_BAND_Y),
]
for i, (ox, oy, bx, by, nx, ny) in enumerate(bottom_panels):
    assert len(ox) == len(oy)
    assert len(bx) == len(by)
    assert len(nx) == len(ny), (i, len(nx), len(ny))
    x1, y1 = expand(bx, by)
    x2, y2 = expand(nx, ny)
    ax = str(i + 4)
    fig.add_trace(go.Scatter(
        x=list(ox) + x1 + x2, y=list(oy) + y1 + y2, mode="markers",
        marker=dict(color="black", size=8, line=dict(width=0)),
        xaxis="x" + ax, yaxis="y" + ax, showlegend=False))

# axes geometry in page pixels
top_geo = [((72, 441), (21, 305)), ((541, 897), (27, 300)), ((983, 1332), (23, 293))]
bot_geo = [((69, 430), (392, 667)), ((532, 888), (392, 663)), ((981, 1332), (392, 660))]
bot_yr = [(-4.18, 4.18), (-4.15, 4.18), (-4.19, 4.16)]

TICKFONT_TOP = dict(family="DejaVu Sans", size=18, color="black")
TICKFONT_BOT = dict(family="DejaVu Sans", size=18, color="black")
common = dict(showgrid=False, zeroline=False, showline=True, mirror=True,
              linecolor="#444444", linewidth=1, ticks="outside", ticklen=4,
              tickwidth=1, tickcolor="#333333")

layout = {}
for i, ((xl, xr), (yt, yb)) in enumerate(top_geo):
    k = "" if i == 0 else str(i + 1)
    layout["xaxis" + k] = dict(domain=[clamp(px(xl)), clamp(px(xr))], range=[0, 6], tickvals=FREQ_TICKS,
                               anchor="y" + k, tickfont=TICKFONT_TOP, **common)
    layout["yaxis" + k] = dict(domain=[clamp(py(yb)), clamp(py(yt))], range=[0, 2.5], tickvals=PDOS_TICKS,
                               tickformat=".1f", anchor="x" + k, tickfont=TICKFONT_TOP, **common)
for i, ((xl, xr), (yt, yb)) in enumerate(bot_geo):
    k = str(i + 4)
    layout["xaxis" + k] = dict(domain=[clamp(px(xl)), clamp(px(xr))], range=[0, 6], tickvals=FREQ_TICKS,
                               anchor="y" + k, tickfont=TICKFONT_BOT, **common)
    layout["yaxis" + k] = dict(domain=[clamp(py(yb)), clamp(py(yt))], range=list(bot_yr[i]),
                               tickvals=GAMMA_TICKS, anchor="x" + k, tickfont=TICKFONT_BOT, **common)

leg_common = dict(xanchor="left", yanchor="top", bgcolor="rgba(255,255,255,0.85)",
                  bordercolor="#d9d9d9", borderwidth=1,
                  font=dict(family="DejaVu Sans", size=17, color="black"),
                  tracegroupgap=2, itemwidth=40)
layout["legend"] = dict(x=px(202), y=py(24), **leg_common)
layout["legend2"] = dict(x=px(666), y=py(29), **leg_common)
layout["legend3"] = dict(x=px(1107), y=py(25), **leg_common)

ann = []
LBL = dict(family="Lato", size=31, color="black")
FORM = dict(family="Lato", size=23, color="black")
AX_TY = dict(family="DejaVu Sans", size=21, color="black")
AX_TX = dict(family="DejaVu Sans", size=20, color="black")
AX_BY = dict(family="DejaVu Sans", size=18, color="black")
AX_BX = dict(family="DejaVu Sans", size=18, color="black")


def A(text, x, y, font, xanchor="center", angle=0):
    ann.append(dict(text=text, x=px(x), y=py(y), xref="paper", yref="paper",
                    showarrow=False, font=font, xanchor=xanchor, yanchor="middle",
                    textangle=angle))


A("(a)", 84, 47, LBL, "left")
A("(b)", 547, 47, LBL, "left")
A("(c)", 989, 43, LBL, "left")
A("AgZn<sub>2</sub>InTe<sub>4</sub>", 85, 126, FORM, "left")
A("CuZn<sub>2</sub>InTe<sub>4</sub>", 549, 117, FORM, "left")
A("Cu<sub>2</sub>CdSnTe<sub>4</sub>", 984, 108, FORM, "left")
A("(d)", 400, 633, LBL)
A("(e)", 852, 634, LBL)
A("(f)", 1300, 622, LBL)

A("PDOS/atom (1/THz)", 20, 163, AX_TY, angle=-90)
A("PDOS/atom (1/THz)", 491, 165, AX_TY, angle=-90)
A("PDOS/atom (1/THz)", 934, 158, AX_TY, angle=-90)
A("Frequency (THz)", 256, 347, AX_TX)
A("Frequency (THz)", 719, 342, AX_TX)
A("Frequency (THz)", 1158, 336, AX_TX)

GT = "Mode Grüneisen parameter γ<sub><i>(q,j)</i></sub>"
A(GT, 17, 529, AX_BY, angle=-90)
A(GT, 484, 532, AX_BY, angle=-90)
A(GT, 934, 527, AX_BY, angle=-90)
A("Frequency (THz)", 249, 707, AX_BX)
A("Frequency (THz)", 710, 703, AX_BX)
A("Frequency (THz)", 1157, 700, AX_BX)

fig.update_layout(width=W, height=H, margin=dict(l=0, r=0, t=0, b=0),
                  paper_bgcolor="white", plot_bgcolor="white",
                  annotations=ann, **layout)

fig.write_html("out.html", config={"displayModeBar": False})
